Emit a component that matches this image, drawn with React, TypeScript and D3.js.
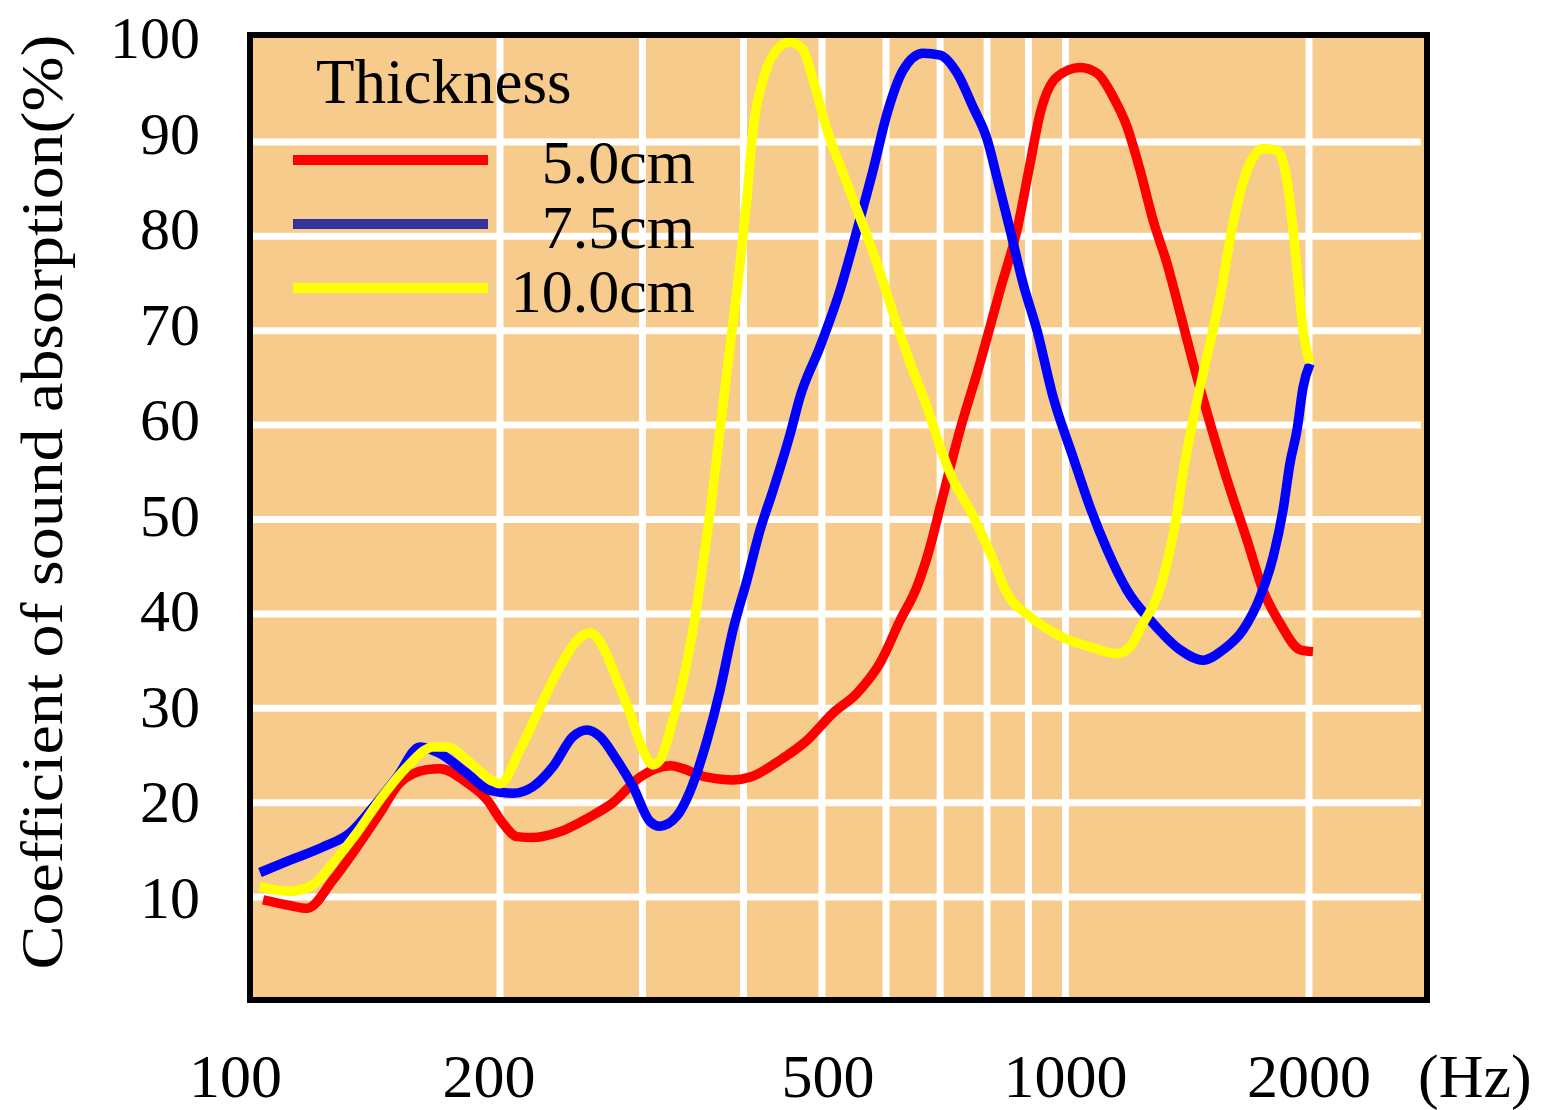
import React from 'react';
import * as d3 from 'd3';

// ---- data ----
const xTickValues = [100, 200, 500, 1000, 2000];
const xTickLabels = ['100', '200', '500', '1000', '2000'];
const xGridValues = [200, 300, 400, 500, 600, 700, 800, 900, 1000, 2000];
const yTickValues = [10, 20, 30, 40, 50, 60, 70, 80, 90, 100];
const yGridValues = [10, 20, 30, 40, 50, 60, 70, 80, 90];
const seriesNames = ['5.0cm', '7.5cm', '10.0cm'];
const seriesColors = ['#FF0000', '#0000FF', '#FFFF00'];
const legendColors = ['#FF0000', '#333399', '#FFFF00'];

// [frequency Hz, absorption %]
const thick50: [number, number][] = [
  [101.9, 9.7], [110, 9.1], [115.5, 8.8], [124.3, 11.8], [133.1, 15.3], [142.1, 18.9],
  [150.4, 22.1], [162.5, 23.5], [168.6, 23.6], [182.1, 22.1], [192.7, 20.3], [201.7, 17.8],
  [209.9, 16.4], [219.7, 16.3], [235.2, 16.8], [258.4, 18.5], [275.9, 20.0], [297.9, 22.7],
  [324.5, 23.9], [360.5, 22.7], [388.2, 22.4], [407.5, 22.7], [443.8, 24.5], [479.2, 26.6],
  [516.1, 29.5], [552.6, 31.6], [590, 34.8], [624.5, 39.3], [655.5, 42.9], [680.2, 47.1],
  [699.9, 51.3], [740.8, 59.5], [784.2, 66.6], [830.1, 74.3], [871.3, 80.7], [904.2, 87.7],
  [930.3, 93.0], [976.4, 96.9], [1042.4, 97.9], [1094.1, 97.3], [1145.1, 94.8], [1191.7, 91.6],
  [1236.6, 87.0], [1283.2, 81.7], [1335.4, 77.1], [1385.7, 71.9], [1437.9, 66.6], [1496.4, 61.3],
  [1584.1, 54.2], [1676.9, 47.8], [1754.9, 42.5], [1841.9, 39.0], [1949.7, 36.2], [2022.9, 36.0],
];

const thick75: [number, number][] = [
  [101.0, 12.6], [110.0, 13.9], [120.8, 15.3], [130.5, 16.8], [139.3, 19.5], [149.2, 22.7],
  [159.3, 25.9], [168.6, 25.2], [182.1, 23.1], [194.4, 21.3], [207.5, 21.0], [219.7, 21.7],
  [232.5, 23.8], [246.2, 27.0], [256.2, 27.7], [265.8, 27.0], [279.0, 24.5], [292.0, 21.7],
  [306.5, 18.0], [315.3, 17.5], [331.0, 18.6], [343.5, 21.2], [360.5, 26.6], [374.1, 31.9],
  [388.2, 38.3], [404.0, 43.6], [419.3, 48.9], [435.1, 53.1], [456.6, 59.0], [469.8, 63.0],
  [497.3, 68.3], [526.5, 74.3], [552.6, 80.7], [578.3, 87.0], [601.8, 93.0], [629.9, 97.6],
  [666.8, 99.4], [699.9, 99.2], [734.5, 97.3], [768.7, 93.7], [800.0, 90.3], [823.1, 86.2],
  [854.1, 80.7], [886.3, 75.0], [922.4, 70.0], [965.3, 63.0], [1021.9, 56.6], [1072.5, 51.3],
  [1125.7, 46.8], [1191.7, 42.5], [1283.2, 39.0], [1385.7, 36.2], [1479.5, 35.1], [1566.2, 36.2],
  [1657.9, 38.3], [1740.0, 41.8], [1805.5, 46.0], [1857.6, 51.0], [1895.0, 56.0], [1933.1, 59.5],
  [1966.5, 64.0], [2005.7, 66.5],
];

const thick100: [number, number][] = [
  [101.0, 11.1], [110.0, 10.6], [117.5, 11.3], [124.3, 13.6], [133.1, 16.8], [142.1, 20.3],
  [153.5, 23.8], [165.3, 25.9], [172.0, 25.9], [182.1, 24.5], [192.7, 22.7], [200, 22.0],
  [211.7, 25.6], [224.1, 30.1], [237.2, 34.4], [249.0, 37.2], [258.4, 38.0], [268.1, 36.5],
  [279.0, 33.0], [289.5, 29.5], [300.4, 25.6], [309.1, 24.0], [315.3, 24.5], [327.2, 28.8],
  [336.7, 33.0], [346.4, 38.3], [356.4, 45.4], [363.6, 50.7], [374.1, 59.5], [384.9, 68.3],
  [396.0, 77.1], [404.0, 84.2], [411.0, 91.3], [422.9, 96.6], [440.0, 99.8], [456.6, 100.6],
  [473.8, 99.8], [487.5, 96.6], [507.3, 91.3], [531.0, 86.7], [557.3, 82.0], [585.0, 77.1],
  [612.2, 71.9], [642.6, 66.6], [674.5, 61.9], [699.9, 57.7], [726.2, 54.2], [762.2, 51.0],
  [806.8, 46.5], [846.8, 42.2], [904.2, 39.7], [993.2, 37.5], [1072.5, 36.5], [1158.2, 35.8],
  [1201.9, 36.5], [1247.2, 39.0], [1297.9, 41.8], [1335.4, 45.4], [1373.9, 50.7], [1397.6, 55.0],
  [1437.9, 60.5], [1479.5, 65.5], [1522.2, 70.1], [1552.8, 73.6], [1611.4, 81.4], [1676.9, 87.0],
  [1754.9, 89.3], [1826.2, 89.1], [1878.9, 85.9], [1911.2, 80.7], [1938.6, 75.4], [1966.5, 70.1],
  [2005.7, 66.6],
];

const allSeries = [thick50, thick75, thick100];

// ---- layout ----
const W = 1541;
const H = 1110;
const frame = { left: 250, top: 35, right: 1427, bottom: 1000 };
const FONT = "'Liberation Serif', 'Times New Roman', serif";
const BG = '#F6CB8B';

export default function App() {
  const x = d3.scaleLog().domain([200, 2000]).range([500, 1309]);
  const y = d3.scaleLinear().domain([0, 100]).range([991.4, 47.6]);
  // tick labels in the source are spaced slightly wider than the grid
  const yLabel = d3.scaleLinear().domain([10, 100]).range([898, 38]);

  const line = d3
    .line<[number, number]>()
    .x((d) => x(d[0]))
    .y((d) => y(d[1]))
    .curve(d3.curveMonotoneX);

  const labelShift: Record<number, number> = { 100: -21, 200: -11, 500: 6 };

  return (
    <svg
      width={W}
      height={H}
      style={{ position: 'absolute', left: 0, top: 0, background: '#fff' }}
      fontFamily={FONT}
    >
      <rect
        x={frame.left}
        y={frame.top}
        width={frame.right - frame.left}
        height={frame.bottom - frame.top}
        fill={BG}
      />
      {yGridValues.map((v) => (
        <line
          key={'hg' + v}
          x1={frame.left}
          x2={frame.right - 6}
          y1={y(v)}
          y2={y(v)}
          stroke="#fff"
          strokeWidth={7}
        />
      ))}
      {xGridValues.map((f) => (
        <line
          key={'vg' + f}
          x1={x(f)}
          x2={x(f)}
          y1={frame.top}
          y2={frame.bottom}
          stroke="#fff"
          strokeWidth={7}
        />
      ))}
      {allSeries.map((s, i) => (
        <path
          key={'s' + i}
          d={line(s) || ''}
          fill="none"
          stroke={seriesColors[i]}
          strokeWidth={9.5}
          strokeLinejoin="round"
          strokeLinecap="butt"
        />
      ))}
      <rect
        x={frame.left}
        y={frame.top}
        width={frame.right - frame.left}
        height={frame.bottom - frame.top}
        fill="none"
        stroke="#000"
        strokeWidth={6}
      />
      <text x={316} y={103} fontSize={63} fill="#000">
        Thickness
      </text>
      {seriesNames.map((n, i) => (
        <g key={'lg' + i}>
          <line
            x1={293}
            x2={488}
            y1={160 + i * 64}
            y2={160 + i * 64}
            stroke={legendColors[i]}
            strokeWidth={10}
          />
          <text x={695} y={183 + i * 64.5} fontSize={62} textAnchor="end" fill="#000">
            {n}
          </text>
        </g>
      ))}
      {yTickValues.map((v) => (
        <text
          key={'yt' + v}
          x={200}
          y={yLabel(v) + 20}
          fontSize={60}
          textAnchor="end"
          fill="#000"
        >
          {v}
        </text>
      ))}
      {xTickValues.map((f, i) => (
        <text
          key={'xt' + f}
          x={x(f) + (labelShift[f] || 0)}
          y={1097}
          fontSize={62}
          textAnchor="middle"
          fill="#000"
        >
          {xTickLabels[i]}
        </text>
      ))}
      <text x={1418} y={1097} fontSize={62} fill="#000">
        (Hz)
      </text>
      <text
        transform="translate(62,502) rotate(-90)"
        fontSize={60}
        textAnchor="middle"
        textLength={935}
        lengthAdjust="spacingAndGlyphs"
        fill="#000"
      >
        Coefficient of sound absorption(%)
      </text>
    </svg>
  );
}
